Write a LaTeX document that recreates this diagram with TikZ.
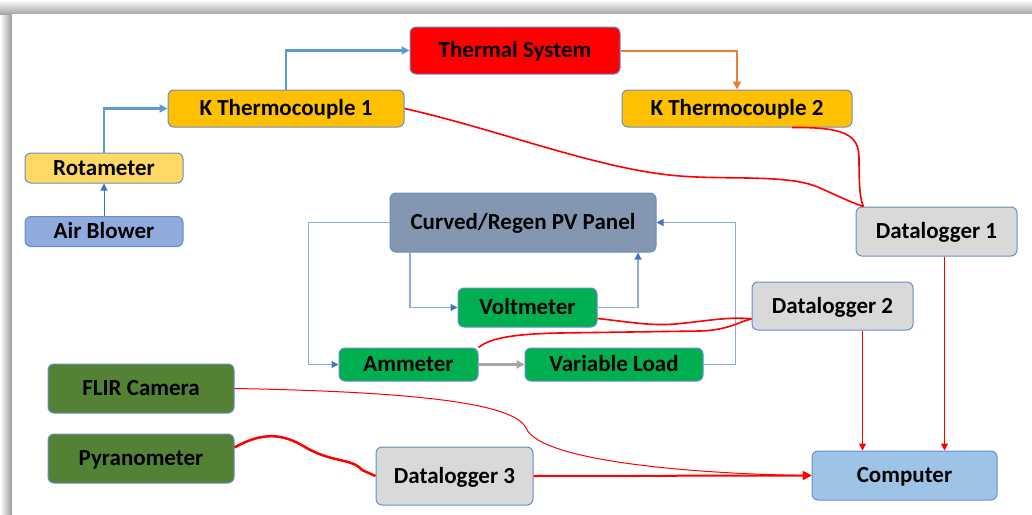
\documentclass[tikz,border=0pt]{standalone}
\usepackage{fontspec}
\setmainfont{Carlito}
\usetikzlibrary{arrows.meta,calc}
\definecolor{bordblue}{HTML}{6A8CCB}
\definecolor{arrblue}{HTML}{4472C4}
\definecolor{thickblue}{HTML}{5B9BD5}
\definecolor{loopblue}{HTML}{8FAADC}
\definecolor{orangeln}{HTML}{ED7D31}
\definecolor{greyln}{HTML}{A5A5A5}
\definecolor{cred}{HTML}{FF0000}
\definecolor{cktc}{HTML}{FFC000}
\definecolor{crot}{HTML}{FFD966}
\definecolor{cair}{HTML}{8FAADC}
\definecolor{cpv}{HTML}{8497B0}
\definecolor{cgreen}{HTML}{00B050}
\definecolor{cdl}{HTML}{D9D9D9}
\definecolor{ccomp}{HTML}{9DC3E6}
\definecolor{cdkgreen}{HTML}{548235}
\tikzset{
  box/.style={draw=bordblue, line width=1pt, rounded corners=6pt, inner sep=0pt,
    font=\fontsize{23}{26}\selectfont\bfseries, text=black,
    text height=14.8pt, text depth=0pt},
  thickarrow/.style={draw=thickblue, line width=2.5pt, -{Triangle[length=8pt,width=8pt]}},
  thinarrow/.style={draw=arrblue, line width=1pt, -{Triangle[length=7pt,width=7pt]}},
  looparrow/.style={draw=loopblue, line width=1.2pt, -{Triangle[length=7pt,width=7pt,fill=arrblue,color=arrblue]}},
  wire/.style={draw=red, line width=1.6pt},
  thinwire/.style={draw=red, line width=1pt},
  redarrow/.style={draw=red, line width=1.2pt, -{Triangle[length=7pt,width=7pt]}},
}
\begin{document}
\begin{tikzpicture}[x=1pt,y=-1pt]
\useasboundingbox (0,0) rectangle (1032,514);
% frame shadow
\fill[white] (0,0) rectangle (1032,514);
\shade[left color=white, right color=black!40] (0,0) rectangle (12,514);
\shade[top color=white, bottom color=black!35] (0,0) rectangle (1032,14);
\fill[white] (12,14) rectangle (1032,514);

% nodes
\node[box, fill=cred, minimum width=210pt, minimum height=47pt] (ts) at (515,50.5) {Thermal System};
\node[box, fill=cktc, minimum width=236pt, minimum height=37pt] (k1) at (286,108.5) {K Thermocouple 1};
\node[box, fill=cktc, minimum width=230pt, minimum height=37pt] (k2) at (737,108.5) {K Thermocouple 2};
\node[box, fill=crot, minimum width=158pt, minimum height=30pt] (rot) at (104,168) {Rotameter};
\node[box, fill=cair, minimum width=158pt, minimum height=30pt] (air) at (104,231.5) {Air Blower};
\node[box, fill=cpv, minimum width=266pt, minimum height=59pt] (pv) at (523,222.5) {Curved/Regen PV Panel};
\node[box, fill=cgreen, minimum width=139pt, minimum height=39pt] (volt) at (527.5,307.5) {Voltmeter};
\node[box, fill=cgreen, minimum width=139pt, minimum height=33pt] (amm) at (408.5,364.5) {Ammeter};
\node[box, fill=cgreen, minimum width=178pt, minimum height=33pt] (vl) at (614,364.5) {Variable Load};
\node[box, fill=cdl, minimum width=161pt, minimum height=49pt] (dl1) at (936.5,231.5) {Datalogger 1};
\node[box, fill=cdl, minimum width=161pt, minimum height=48pt] (dl2) at (832.5,306) {Datalogger 2};
\node[box, fill=ccomp, minimum width=185pt, minimum height=49pt] (comp) at (904.5,475.5) {Computer};
\node[box, fill=cdkgreen, minimum width=186pt, minimum height=49pt] (flir) at (141,388.5) {FLIR Camera};
\node[box, fill=cdkgreen, minimum width=186pt, minimum height=49pt] (pyr) at (141,458.5) {Pyranometer};
\node[box, fill=cdl, minimum width=157pt, minimum height=58pt] (dl3) at (454.5,476) {Datalogger 3};

% blue air-flow connectors
\draw[thinarrow] (air.north) -- (rot.south);
\draw[thickarrow] (rot.north) |- (k1.west);
\draw[thickarrow] (k1.north) |- (ts.west);
\draw[draw=orangeln, line width=2pt, -{Triangle[length=8pt,width=8pt]}] (ts.east) -| (k2.north);

% PV loop
\draw[looparrow] (pv.west) -- ++(-81,0) |- (amm.west);
\draw[looparrow] ([xshift=-113pt]pv.south) |- (volt.west);
\draw[looparrow] (volt.east) -| ([xshift=115pt]pv.south);
\draw[looparrow] (vl.east) -- ++(32,0) |- (pv.east);
\draw[draw=greyln, line width=2.5pt, -{Triangle[length=8pt,width=8pt]}] (amm.east) -- (vl.west);

% red wires
\draw[wire] (k1.east) .. controls (500,130) and (600,170) .. (680,176)
  .. controls (730,180) and (790,174) .. (820,188)
  .. controls (840,197) and (855,204) .. ([xshift=8pt]dl1.north west);
\draw[wire] ([xshift=55pt]k2.south) .. controls (845,127) and (859,135) .. (859,158)
  .. controls (859,185) and (860,200) .. ([xshift=8pt]dl1.north west);
\draw[wire] ([yshift=-11pt]volt.east) .. controls (630,322) and (650,326) .. (675,324)
  .. controls (700,322) and (730,316) .. ([yshift=-13pt]dl2.west);
\draw[wire] (amm.north east) .. controls (488,340) and (505,334) .. (560,333)
  -- (700,331) .. controls (730,330) and (740,321) .. ([yshift=-13pt]dl2.west);
\draw[thinwire, -{Triangle[length=7pt,width=7pt]}] (flir.east) .. controls (430,392) and (515,405) .. (526,428)
  .. controls (540,462) and (700,474) .. (comp.west);
\draw[draw=red, line width=2.5pt] ([yshift=11pt]pyr.east) .. controls (262,432) and (282,433) .. (305,447)
  .. controls (332,463) and (352,458) .. (362,470) -- (dl3.west);
\draw[draw=red, line width=2pt, -{Triangle[length=9pt,width=9pt]}] (dl3.east) -- (comp.west);
\draw[redarrow] ([xshift=8pt]dl1.south) -- ([xshift=8pt]dl1.south |- comp.north);
\draw[redarrow] ([xshift=30pt]dl2.south) -- ([xshift=30pt]dl2.south |- comp.north);
\end{tikzpicture}
\end{document}
